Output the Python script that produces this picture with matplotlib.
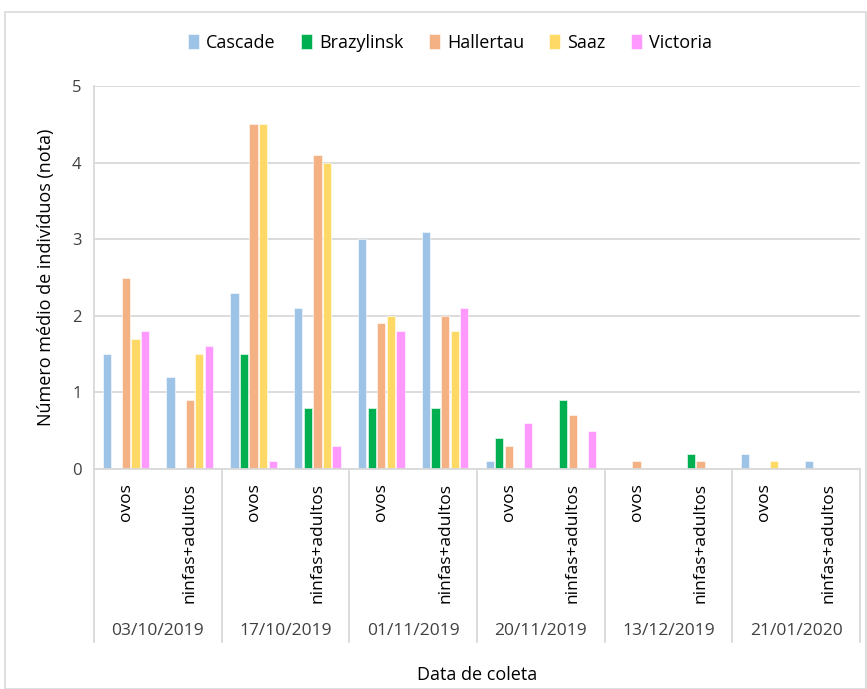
import numpy as np
import matplotlib
matplotlib.use("Agg")
import matplotlib.pyplot as plt
from matplotlib.patches import Rectangle
from matplotlib.transforms import blended_transform_factory

plt.rcParams['font.family'] = ['Open Sans', 'DejaVu Sans']

dates = ["03/10/2019", "17/10/2019", "01/11/2019", "20/11/2019", "13/12/2019", "21/01/2020"]
stages = ["ovos", "ninfas+adultos"]
series = ["Cascade", "Brazylinsk", "Hallertau", "Saaz", "Victoria"]
colors = ["#9DC3E6", "#00B050", "#F4B183", "#FFD966", "#FF99FF"]

cascade    = [1.5, 1.2, 2.3, 2.1, 3.0, 3.1, 0.1, 0.0, 0.0, 0.0, 0.2, 0.1]
brazylinsk = [0.0, 0.0, 1.5, 0.8, 0.8, 0.8, 0.4, 0.9, 0.0, 0.2, 0.0, 0.0]
hallertau  = [2.5, 0.9, 4.5, 4.1, 1.9, 2.0, 0.3, 0.7, 0.1, 0.1, 0.0, 0.0]
saaz       = [1.7, 1.5, 4.5, 4.0, 2.0, 1.8, 0.0, 0.0, 0.0, 0.0, 0.1, 0.0]
victoria   = [1.8, 1.6, 0.1, 0.3, 1.8, 2.1, 0.6, 0.5, 0.0, 0.0, 0.0, 0.0]
values = [cascade, brazylinsk, hallertau, saaz, victoria]

W, H = 867, 689
fig = plt.figure(figsize=(W / 100, H / 100), dpi=100)
fig.patch.set_facecolor("white")

# outer chart frame
fig.add_artist(Rectangle((5 / W, 0), (W - 5) / W - 0.001, (H - 12) / H,
                         transform=fig.transFigure, fill=False,
                         edgecolor="#D9D9D9", linewidth=1.2))

left, right, top, bottom = 94, 860, 86, 469
ax = fig.add_axes([left / W, 1 - bottom / H, (right - left) / W, (bottom - top) / H])

n = len(dates) * len(stages)
x = np.arange(n)
slot = 0.15
bw = 0.13
for i, (name, vals, col) in enumerate(zip(series, values, colors)):
    ax.bar(x + (i - 2) * slot, vals, width=bw, color=col, edgecolor="white",
           linewidth=0.4, label=name, zorder=3)

ax.set_xlim(-0.5, n - 0.5)
ax.set_ylim(0, 5)
ax.set_yticks(range(6))
ax.yaxis.grid(True, color="#D9D9D9", linewidth=1.3, zorder=0)
ax.set_axisbelow(True)
for s in ["top", "right", "bottom"]:
    ax.spines[s].set_visible(False)
ax.spines["left"].set_color("#D9D9D9")
ax.spines["left"].set_linewidth(1.3)
ax.tick_params(axis="y", length=0, labelsize=12, colors="#404040", pad=9)
ax.set_xticks([])

# category axis: stage labels, date labels and group separators
trans = blended_transform_factory(ax.transData, ax.transAxes)
depth = (642 - bottom) / (bottom - top)
ax.plot([-0.5, n - 0.5], [0, 0], transform=trans, color="#D9D9D9", lw=1.3, clip_on=False, zorder=4)
for g in range(len(dates) + 1):
    xb = -0.5 + 2 * g
    ax.plot([xb, xb], [0, -depth], transform=trans, color="#D9D9D9", lw=1.3, clip_on=False)
for k in range(n):
    ax.text(x[k], -(483 - bottom) / (bottom - top), stages[k % 2], rotation=90,
            ha="center", va="top", fontsize=12.5, color="black", transform=trans)
for g, d in enumerate(dates):
    ax.text(2 * g + 0.5, -(631 - bottom) / (bottom - top), d, ha="center", va="center",
            fontsize=12.5, color="#404040", transform=trans)

ax.set_ylabel("Número médio de indivíduos (nota)", fontsize=13, color="black", labelpad=12)
fig.text(477 / W, 1 - 675 / H, "Data de coleta", ha="center", va="center", fontsize=13, color="black")

ax.legend(loc="center", bbox_to_anchor=(450 / W, 1 - 43 / H), bbox_transform=fig.transFigure,
          ncol=5, frameon=False, fontsize=13, handlelength=0.6, handleheight=0.9,
          handletextpad=0.4, columnspacing=1.4)

fig.savefig("out.png", dpi=100)
